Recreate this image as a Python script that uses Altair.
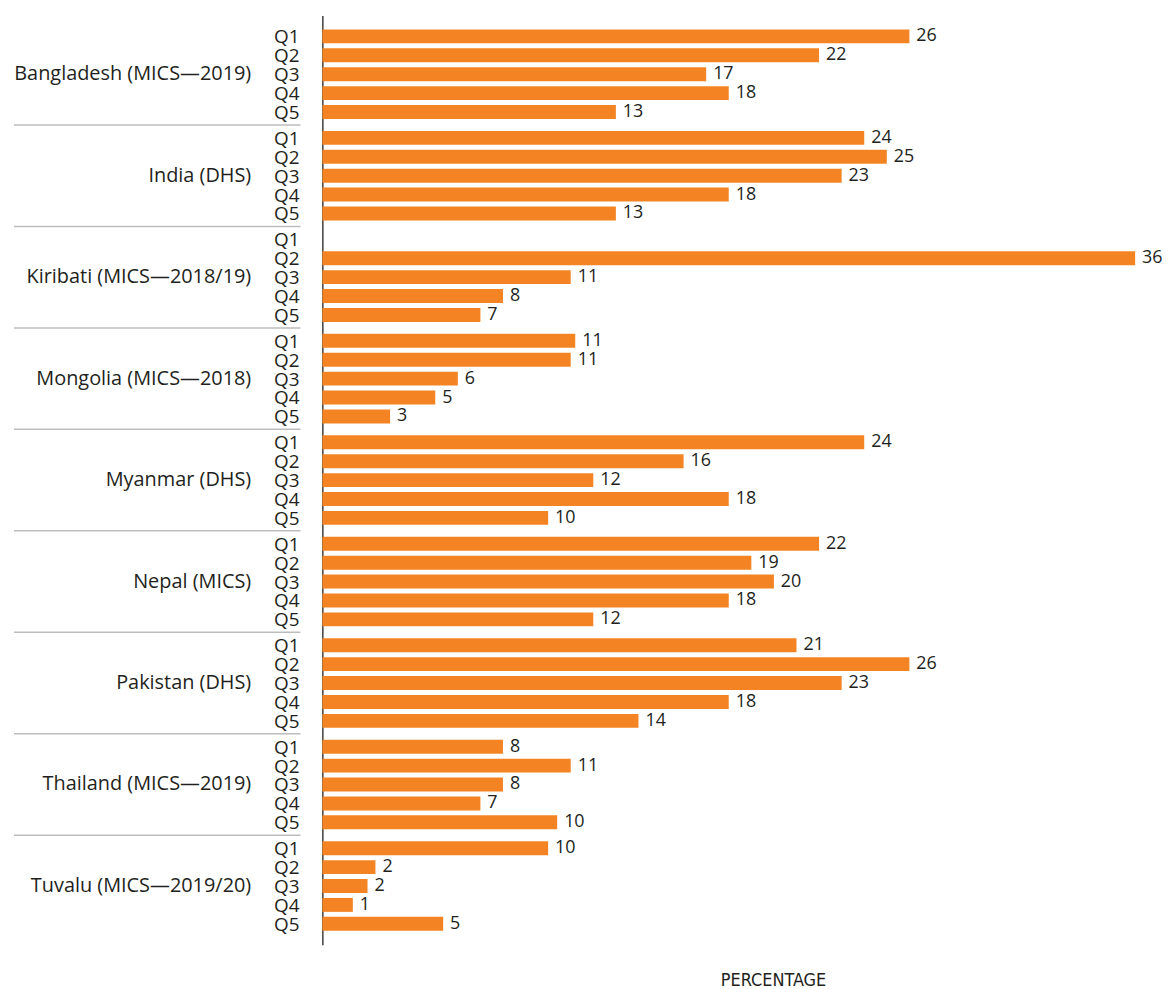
import altair as alt
import pandas as pd

countries = [
    "Bangladesh (MICS—2019)",
    "India (DHS)",
    "Kiribati (MICS—2018/19)",
    "Mongolia (MICS—2018)",
    "Myanmar (DHS)",
    "Nepal (MICS)",
    "Pakistan (DHS)",
    "Thailand (MICS—2019)",
    "Tuvalu (MICS—2019/20)",
]
quintiles = ["Q1", "Q2", "Q3", "Q4", "Q5"]

bangladesh = [26, 22, 17, 18, 13]
india = [24, 25, 23, 18, 13]
kiribati = [None, 36, 11, 8, 7]
mongolia = [11.2, 11, 6, 5, 3]
myanmar = [24, 16, 12, 18, 10]
nepal = [22, 19, 20, 18, 12]
pakistan = [21, 26, 23, 18, 14]
thailand = [8, 11, 8, 7, 10.4]
tuvalu = [10, 2.35, 2, 1.35, 5.35]

series = [bangladesh, india, kiribati, mongolia, myanmar, nepal, pakistan, thailand, tuvalu]

rows = []
for c, vals in zip(countries, series):
    for q, v in zip(quintiles, vals):
        rows.append({"country": c, "quintile": q, "value": v})
df = pd.DataFrame(rows)

sep_df = pd.DataFrame({"country": countries[1:]})

FONT = "Open Sans"
TXT = "#231f20"
ORANGE = "#f48423"

yscale = alt.Scale(domain=countries, paddingInner=0.068627, paddingOuter=0.11275, round=False)
yoff_scale = alt.Scale(domain=quintiles, paddingInner=0.263, paddingOuter=0.1315, round=False)

y_enc = alt.Y(
    "country:N",
    scale=yscale,
    title=None,
    axis=alt.Axis(
        ticks=False,
        tickSize=0,
        labelPadding=72,
        labelFontSize=20,
        labelFont=FONT,
        labelColor=TXT,
        labelLimit=400,
        domainColor=TXT,
        domainWidth=1.3,
        grid=False,
    ),
)

x_enc = alt.X(
    "value:Q",
    scale=alt.Scale(domain=[0, 36], nice=False),
    axis=alt.Axis(
        labels=False,
        ticks=False,
        domain=False,
        grid=False,
        title="PERCENTAGE",
        titleFont="'Liberation Sans Narrow', 'DejaVu Sans Condensed', 'Liberation Sans'",
        titleFontSize=18,
        titleFontWeight="normal",
        titleColor=TXT,
        titlePadding=27,
        titleX=453,
    ),
)

base = alt.Chart(df)

bars = base.mark_bar(color=ORANGE).encode(
    x=x_enc,
    y=y_enc,
    yOffset=alt.YOffset("quintile:N", scale=yoff_scale),
)

values = base.transform_filter("isValid(datum.value)").mark_text(
    align="left", baseline="middle", dx=7, fontSize=18, font=FONT, color=TXT
).encode(
    x=alt.X("value:Q"),
    y=alt.Y("country:N"),
    yOffset=alt.YOffset("quintile:N"),
    text=alt.Text("value:Q", format=".0f"),
)

qlabels = base.mark_text(
    align="right", baseline="middle", fontSize=19, font=FONT, color=TXT, dy=1
).encode(
    x=alt.value(-23),
    y=alt.Y("country:N"),
    yOffset=alt.YOffset("quintile:N"),
    text="quintile:N",
)

seps = alt.Chart(sep_df).mark_rule(color="#bdbdbd", strokeWidth=1.5, yOffset=-3.5).encode(
    y=alt.Y("country:N", bandPosition=0),
    x=alt.value(-22),
    x2=alt.value(-310),
)

chart = (
    alt.layer(bars, values, qlabels, seps)
    .properties(
        width=817,
        height=934,
        padding={"left": 5, "top": 5, "right": 0, "bottom": 0},
    )
    .configure_view(stroke=None)
)

chart.save("out.html", embed_options={"renderer": "svg", "actions": False})
